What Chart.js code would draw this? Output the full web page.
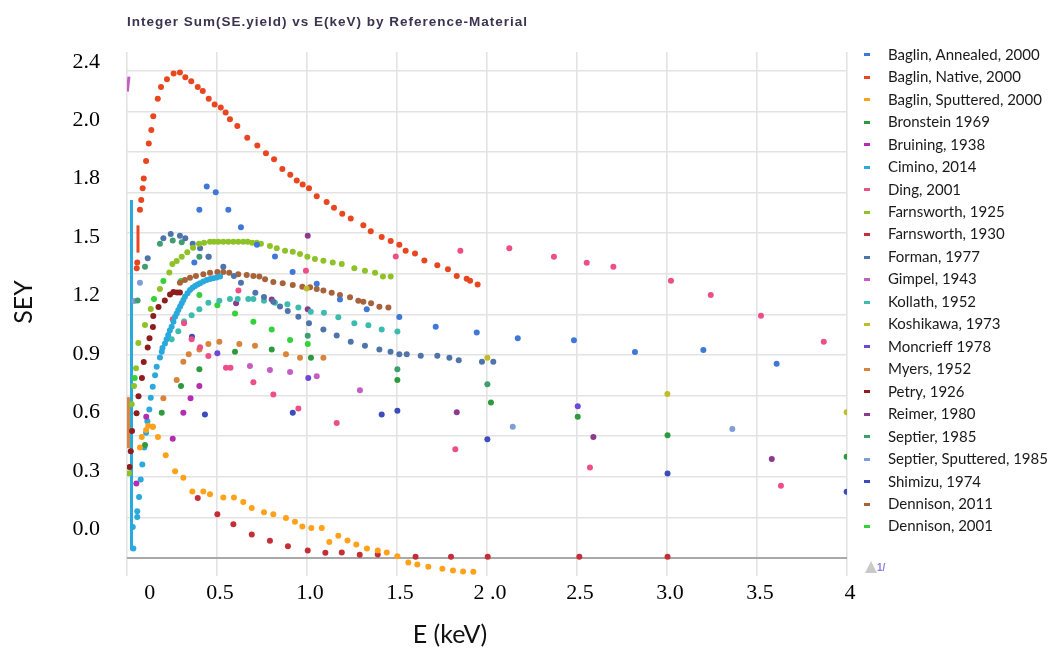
<!DOCTYPE html>
<html>
<head>
<meta charset="utf-8">
<title>SEY vs E(keV)</title>
<script src="https://cdn.jsdelivr.net/npm/chart.js@4.4.1/dist/chart.umd.min.js"></script>
<style>
    html, body { margin: 0; padding: 0; background: #fff; }
    #wrap { width: 1049px; height: 650px; }
</style>
</head>
<body>
<div id="wrap"><canvas id="seyChart" width="1049" height="650"></canvas></div>
<script>
// SEY vs primary energy, one scatter series per reference measurement
const chartTitle = 'Integer Sum(SE.yield) vs E(keV) by Reference-Material';
const xTitle = 'E (keV)';
const yTitle = 'SEY';

const xTickValues = [0, 0.5, 1, 1.5, 2, 2.5, 3, 3.5, 4];
const xTickLabels = ['0', '0.5', '1.0', '1.5', '2 .0', '2.5', '3.0', '3.5', '4'];
const yTickValues = [0, 0.3, 0.6, 0.9, 1.2, 1.5, 1.8, 2.1, 2.4];
const yTickLabels = ['0.0', '0.3', '0.6', '0.9', '1.2', '1.5', '1.8', '2.0', '2.4'];

const names = [
    'Baglin, Annealed, 2000', 'Baglin, Native, 2000', 'Baglin, Sputtered, 2000', 'Bronstein 1969',
    'Bruining, 1938', 'Cimino, 2014', 'Ding, 2001', 'Farnsworth, 1925', 'Farnsworth, 1930',
    'Forman, 1977', 'Gimpel, 1943', 'Kollath, 1952', 'Koshikawa, 1973', 'Moncrieff 1978',
    'Myers, 1952', 'Petry, 1926', 'Reimer, 1980', 'Septier, 1985', 'Septier, Sputtered, 1985',
    'Shimizu, 1974', 'Dennison, 2011', 'Dennison, 2001'
];
const colors = [
    '#3f78d8', '#e8461f', '#ffa21a', '#2e9a40', '#b42cb0', '#2aa9dc', '#ec4f86', '#8fc226',
    '#c22f36', '#4f74aa', '#c45ec4', '#3dbcae', '#bfbd2a', '#6c48d6', '#d8843a', '#8e1d1d',
    '#8c3a8e', '#3f9e6e', '#7e9ed6', '#3c4cbc', '#a8623a', '#33d13a'
];

// [E (keV), SEY]
const baglinAnnealed = [[0.374,1.37],[0.402,1.64],[0.443,1.76],[0.493,1.73],[0.563,1.64],[0.633,1.55],[0.722,1.46],[0.822,1.40],[0.920,1.32],[1.054,1.26],[1.183,1.18],[1.332,1.13],[1.513,1.09],[1.715,1.04],[1.943,1.01],[2.171,0.98],[2.483,0.97],[2.822,0.91],[3.202,0.92],[3.609,0.85]];
const baglinNative = [[0.054,1.34],[0.057,1.37],[0.072,1.64],[0.079,1.69],[0.087,1.75],[0.093,1.80],[0.106,1.89],[0.121,1.98],[0.135,2.05],[0.146,2.12],[0.171,2.21],[0.189,2.27],[0.222,2.31],[0.259,2.34],[0.294,2.345],[0.324,2.32],[0.357,2.30],[0.393,2.27],[0.421,2.25],[0.454,2.21],[0.487,2.18],[0.521,2.165],[0.548,2.14],[0.572,2.105],[0.613,2.07],[0.668,2.01],[0.724,1.97],[0.772,1.93],[0.817,1.90],[0.863,1.85],[0.907,1.82],[0.943,1.79],[0.976,1.77],[1.011,1.75],[1.054,1.71],[1.109,1.68],[1.150,1.65],[1.196,1.62],[1.243,1.595],[1.313,1.56],[1.354,1.53],[1.415,1.50],[1.465,1.48],[1.513,1.46],[1.548,1.43],[1.600,1.415],[1.652,1.38],[1.724,1.355],[1.783,1.335],[1.832,1.30],[1.887,1.286],[1.906,1.276],[1.948,1.257]];
const baglinSputtered = [[0.072,0.42],[0.082,0.474],[0.106,0.509],[0.118,0.531],[0.143,0.526],[0.172,0.474],[0.215,0.38],[0.267,0.298],[0.313,0.264],[0.363,0.194],[0.424,0.194],[0.461,0.18],[0.535,0.163],[0.594,0.163],[0.646,0.14],[0.693,0.109],[0.761,0.087],[0.813,0.077],[0.883,0.058],[0.933,0.038],[0.974,0.014],[1.024,0.007],[1.082,0.007],[1.124,-0.065],[1.174,-0.034],[1.225,-0.058],[1.274,-0.078],[1.333,-0.099],[1.393,-0.109],[1.443,-0.12],[1.502,-0.139],[1.563,-0.171],[1.613,-0.181],[1.674,-0.193],[1.752,-0.203],[1.811,-0.212],[1.867,-0.217],[1.924,-0.218]];
const bronstein = [[0.100,0.432],[0.193,0.598],[0.300,0.735],[0.402,0.821],[0.600,0.911],[0.804,0.923],[1.022,0.880],[1.502,0.766],[2.022,0.651],[2.504,0.577],[3.003,0.483],[3.998,0.372]];
const bruining = [[0.052,0.235],[0.107,0.577],[0.254,0.465],[0.313,0.598],[0.353,0.673],[0.402,0.735]];
const cimino = [[0.032,0.012],[0.035,-0.099],[0.057,0.063],[0.057,0.092],[0.067,0.166],[0.076,0.255],[0.085,0.332],[0.096,0.42],[0.106,0.495],[0.113,0.555],[0.124,0.615],[0.132,0.675],[0.143,0.731],[0.156,0.791],[0.165,0.834],[0.183,0.882],[0.193,0.911],[0.197,0.93],[0.211,0.954],[0.22,0.975],[0.229,0.997],[0.238,1.02],[0.248,1.04],[0.258,1.065],[0.267,1.091],[0.276,1.108],[0.285,1.125],[0.295,1.143],[0.304,1.16],[0.313,1.177],[0.322,1.194],[0.336,1.212],[0.35,1.228],[0.364,1.24],[0.378,1.249],[0.392,1.257],[0.406,1.263],[0.424,1.272],[0.443,1.28],[0.461,1.285],[0.479,1.288],[0.498,1.293],[0.517,1.297]];
const ding = [[0.254,1.078],[0.317,1.057],[0.359,0.975],[0.406,0.934],[0.452,0.889],[0.55,0.829],[0.575,0.829],[0.619,1.226],[0.702,0.754],[0.813,0.692],[0.952,0.62],[0.994,1.327],[1.165,0.546],[1.493,1.40],[1.824,0.411],[1.852,1.43],[2.124,1.442],[2.372,1.399],[2.554,1.368],[2.572,0.317],[2.702,1.348],[3.022,1.276],[3.243,1.202],[3.522,1.096],[3.633,0.223],[3.871,0.962]];
const farnsworth1925 = [[0.011,0.288],[0.026,0.642],[0.039,0.735],[0.050,0.827],[0.063,0.956],[0.100,1.048],[0.132,1.131],[0.183,1.233],[0.235,1.318],[0.252,1.362],[0.276,1.377],[0.304,1.399],[0.335,1.422],[0.367,1.445],[0.400,1.465],[0.428,1.471],[0.461,1.476],[0.483,1.476],[0.507,1.476],[0.535,1.476],[0.563,1.476],[0.591,1.476],[0.618,1.476],[0.646,1.476],[0.671,1.476],[0.696,1.471],[0.721,1.471],[0.744,1.465],[0.794,1.454],[0.832,1.442],[0.878,1.430],[0.921,1.425],[0.961,1.413],[1.002,1.399],[1.044,1.387],[1.091,1.379],[1.143,1.370],[1.193,1.362],[1.263,1.340],[1.322,1.327],[1.378,1.317],[1.422,1.297],[1.465,1.297]];
const farnsworth1930 = [[0.393,0.161],[0.502,0.077],[0.591,0.026],[0.693,-0.027],[0.794,-0.059],[0.894,-0.087],[1.004,-0.109],[1.102,-0.121],[1.193,-0.120],[1.293,-0.131],[1.393,-0.130],[1.603,-0.141],[1.800,-0.141],[2.004,-0.141],[2.513,-0.141],[3.003,-0.141]];
const forman = [[0.115,1.391],[0.202,1.494],[0.243,1.516],[0.294,1.507],[0.324,1.494],[0.365,1.465],[0.406,1.442],[0.454,1.399],[0.535,1.348],[0.594,1.300],[0.633,1.266],[0.713,1.214],[0.761,1.192],[0.813,1.168],[0.850,1.143],[0.893,1.120],[0.952,1.091],[1.011,1.057],[1.091,1.026],[1.165,0.995],[1.243,0.962],[1.322,0.942],[1.402,0.923],[1.464,0.911],[1.513,0.899],[1.554,0.899],[1.632,0.891],[1.724,0.891],[1.791,0.880],[1.843,0.868],[1.972,0.860],[2.035,0.860]];
const gimpel = [[0.683,0.838],[0.794,0.817],[0.906,0.807],[1.054,0.786],[1.294,0.714]];
const kollath = [[0.248,0.975],[0.285,1.016],[0.317,1.067],[0.359,1.098],[0.402,1.129],[0.452,1.163],[0.513,1.173],[0.572,1.182],[0.615,1.182],[0.674,1.182],[0.702,1.182],[0.761,1.173],[0.822,1.163],[0.891,1.155],[0.952,1.139],[1.021,1.117],[1.094,1.112],[1.174,1.088],[1.263,1.057],[1.341,1.047],[1.415,1.026],[1.502,1.015]];
const koshikawa = [[0.998,1.236],[2.002,0.880],[3.002,0.694],[3.998,0.600]];
const moncrieff = [[0.502,0.903],[1.007,0.777],[2.504,0.632]];
const myers = [[0.143,0.526],[0.202,0.672],[0.276,0.766],[0.313,0.860],[0.343,0.898],[0.402,0.923],[0.452,0.951],[0.513,0.963],[0.624,0.951],[0.711,0.942],[0.883,0.899],[0.961,0.880],[1.091,0.880]];
const petry = [[0.014,0.319],[0.021,0.401],[0.028,0.504],[0.053,0.596],[0.064,0.683],[0.083,0.776],[0.093,0.858],[0.115,0.933],[0.125,0.981],[0.144,1.038],[0.146,1.095],[0.175,1.141],[0.210,1.174],[0.239,1.205],[0.258,1.218],[0.278,1.215],[0.294,1.215]];
const reimer = [[0.606,1.160],[0.804,1.180],[1.004,1.129],[1.004,1.507],[1.832,0.600],[2.591,0.474],[3.582,0.360]];
const septier = [[0.059,1.174],[0.100,1.348],[0.183,1.465],[0.254,1.482],[0.304,1.473],[0.402,1.399],[1.004,0.993],[1.502,0.821],[2.002,0.745]];
const septierSputtered = [[0.041,1.172],[0.072,1.266],[0.452,1.399],[2.143,0.526],[3.363,0.515]];
const shimizu = [[0.361,0.988],[0.433,0.589],[0.921,0.598],[1.415,0.589],[1.502,0.608],[2.002,0.462],[3.003,0.286],[3.998,0.192]];
const dennison2011 = [[0.294,1.266],[0.322,1.280],[0.350,1.291],[0.383,1.300],[0.424,1.309],[0.461,1.317],[0.502,1.321],[0.535,1.321],[0.568,1.317],[0.618,1.309],[0.665,1.305],[0.702,1.300],[0.735,1.297],[0.767,1.283],[0.813,1.269],[0.865,1.263],[0.921,1.254],[0.974,1.245],[1.017,1.242],[1.054,1.233],[1.091,1.225],[1.137,1.214],[1.183,1.202],[1.239,1.191],[1.285,1.173],[1.313,1.168],[1.356,1.160],[1.402,1.142],[1.452,1.139]];
const dennison2001 = [[0.043,0.776],[0.150,1.182],[0.202,1.274],[0.300,1.274],[0.402,1.202],[0.502,1.150],[0.600,1.108],[0.702,1.065],[0.804,1.026],[0.906,0.971],[1.004,0.951]];

// near-zero energy sweeps, packed so tightly they read as streaks
const baglinNativeStreak = [[0.061,1.42],[0.061,1.56]];
const ciminoStreak = [[0.025,1.69],[0.025,-0.108]];
const gimpelStreak = [[0.002,2.247],[0.011,2.324]];
const myersStreak = [[0.008,0.416],[0.008,0.678]];

const values = [baglinAnnealed, baglinNative, baglinSputtered, bronstein, bruining, cimino, ding,
    farnsworth1925, farnsworth1930, forman, gimpel, kollath, koshikawa, moncrieff, myers, petry,
    reimer, septier, septierSputtered, shimizu, dennison2011, dennison2001];
const streaks = [[1, baglinNativeStreak], [5, ciminoStreak], [10, gimpelStreak], [14, myersStreak]];

const PLOT_RIGHT = 847;
const toXY = pts => pts.map(([x, y]) => ({ x, y }));

const datasets = names.map((name, i) => ({
    label: name,
    data: toXY(values[i]),
    backgroundColor: colors[i],
    borderColor: colors[i],
    pointRadius: 3,
    pointHoverRadius: 3,
    pointBorderWidth: 0
}));
streaks.forEach(([i, pts]) => datasets.push({
    label: names[i],
    streak: true,
    data: toXY(pts),
    showLine: true,
    borderColor: colors[i],
    backgroundColor: colors[i],
    borderWidth: 3,
    pointRadius: 0
}));

// small horizontal dash used as legend marker
const dashCache = {};
function dash(color) {
    if (!dashCache[color]) {
        const c = document.createElement('canvas');
        c.width = 6;
        c.height = 3;
        const g = c.getContext('2d');
        g.fillStyle = color;
        g.fillRect(0, 0, 6, 3);
        dashCache[color] = c;
    }
    return dashCache[color];
}

const chartTexts = {
    id: 'chartTexts',
    afterDraw(chart) {
        const ctx = chart.ctx;
        ctx.save();
        ctx.fillStyle = '#3b3450';
        ctx.font = 'bold 13.5px "Liberation Sans", Arial, sans-serif';
        ctx.letterSpacing = '1px';
        ctx.textAlign = 'left';
        ctx.textBaseline = 'alphabetic';
        ctx.fillText(chartTitle, 127, 26);
        ctx.letterSpacing = '0px';

        ctx.fillStyle = '#111';
        ctx.font = '25px Lato, sans-serif';
        ctx.textAlign = 'center';
        ctx.fillText(xTitle, 450, 643);

        ctx.save();
        ctx.translate(32, 302);
        ctx.rotate(-Math.PI / 2);
        ctx.fillText(yTitle, 0, 0);
        ctx.restore();

        // page marker left in the corner of the source screenshot
        ctx.fillStyle = '#c9c9c9';
        ctx.beginPath();
        ctx.moveTo(865, 573);
        ctx.lineTo(871, 561);
        ctx.lineTo(877, 573);
        ctx.closePath();
        ctx.fill();
        ctx.fillStyle = '#8a7fe0';
        ctx.font = 'bold 10px "Liberation Sans", sans-serif';
        ctx.textAlign = 'left';
        ctx.fillText('1/', 877, 571);
        ctx.restore();
    }
};

const serifTicks = { family: '"Liberation Serif", "Times New Roman", serif', size: 22 };

const chart = new Chart(document.getElementById('seyChart'), {
    type: 'scatter',
    data: { datasets },
    options: {
        responsive: false,
        animation: false,
        events: [],
        layout: { padding: { top: 40, right: 0, bottom: 0, left: 0 } },
        plugins: {
            tooltip: { enabled: false },
            legend: {
                position: 'right',
                align: 'start',
                maxWidth: 300,
                labels: {
                    usePointStyle: true,
                    pointStyleWidth: 26,
                    padding: 7.46,
                    color: '#1a1a1a',
                    font: { family: 'Lato, sans-serif', size: 15 },
                    filter: (item, data) => !data.datasets[item.datasetIndex].streak,
                    generateLabels: c => Chart.defaults.plugins.legend.labels.generateLabels(c)
                        .map(item => Object.assign(item, { pointStyle: dash(item.fillStyle) }))
                }
            }
        },
        scales: {
            // value axis for the data; draws the vertical grid
            x: {
                type: 'linear',
                position: 'top',
                min: 0,
                max: 4,
                ticks: { display: false, stepSize: 0.5 },
                border: { display: false },
                grid: { color: '#e3e3e3', lineWidth: 1.6, drawTicks: false },
                afterFit: s => { s.height = 12; }
            },
            // printed labels under the plot
            xl: {
                type: 'linear',
                position: 'bottom',
                min: 0,
                max: 4,
                grid: { display: false, drawTicks: false },
                border: { display: false },
                // the reference prints its "0" a little right of the axis
                afterBuildTicks: s => { s.ticks = xTickValues.map(v => ({ value: v === 0 ? 0.11 : v })); },
                ticks: {
                    autoSkip: false,
                    maxRotation: 0,
                    padding: 4,
                    labelOffset: 3,
                    color: '#000',
                    font: serifTicks,
                    callback: (v, i) => xTickLabels[i]
                },
                afterFit: s => { s.height = 74; }
            },
            y: {
                type: 'linear',
                position: 'left',
                min: -0.24,
                max: 2.45,
                grid: { display: false, drawTicks: false },
                border: { display: false },
                afterBuildTicks: s => { s.ticks = yTickValues.map(v => ({ value: v })); },
                ticks: {
                    autoSkip: false,
                    padding: 27,
                    color: '#000',
                    font: serifTicks,
                    callback: (v, i) => yTickLabels[i]
                },
                afterFit: s => { s.width = 127; }
            },
            // horizontal grid of the original plot, not aligned with the printed labels
            yg: {
                type: 'linear',
                position: 'left',
                min: -0.44,
                max: 12.46,
                ticks: { display: false, stepSize: 1, includeBounds: false },
                border: { display: false },
                grid: {
                    drawTicks: false,
                    color: c => c.tick.value === 0 ? '#a9a9a9' : '#e3e3e3',
                    lineWidth: c => c.tick.value === 0 ? 2 : 1.6
                },
                afterFit: s => { s.width = 0; }
            }
        }
    },
    plugins: [chartTexts]
});

// pin the plot's right edge where the reference has it; the legend's empty
// right margin may run past the canvas edge
chart.options.layout.padding.right = chart.chartArea.right - PLOT_RIGHT;
chart.update();
</script>
</body>
</html>
